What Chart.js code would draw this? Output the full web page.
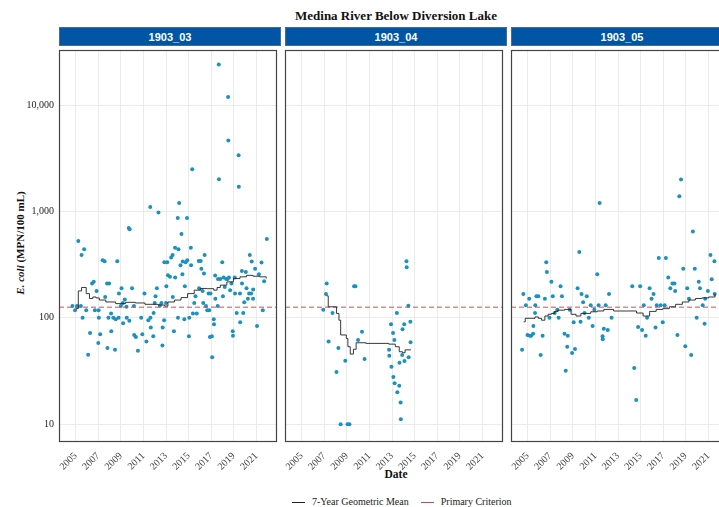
<!DOCTYPE html>
<html>
<head>
<meta charset="utf-8">
<script src="https://cdn.jsdelivr.net/npm/chart.js@4.4.0/dist/chart.umd.min.js"></script>
<style>
body{margin:0;width:719px;height:507px;overflow:hidden;background:#fff;position:relative;font-family:"Liberation Serif","Times New Roman",serif;}
canvas{position:absolute;top:46px;}
.strip{position:absolute;top:27px;height:19px;width:222px;background:#0055a4;color:#fff;font:bold 11px "Liberation Sans",Arial,sans-serif;text-align:center;line-height:19px;box-sizing:border-box;border:1px solid #4a6a90;}
#title{position:absolute;left:0;width:792px;top:8px;text-align:center;font-weight:bold;font-size:13px;color:#111;}
#ytitle{position:absolute;left:-80px;top:237px;width:200px;text-align:center;transform:rotate(-90deg);font-weight:bold;font-size:11px;color:#111;}
#xtitle{position:absolute;left:296px;width:200px;top:468px;text-align:center;font-weight:bold;font-size:11.5px;color:#111;}
#legend{position:absolute;top:496px;left:292px;font-size:10px;color:#222;white-space:nowrap;}
#legend span.k{display:inline-block;width:13px;height:0;border-top:1px solid #222;vertical-align:middle;margin-right:7px;}
#legend span.r{border-top-color:#c94a4a;margin-left:12px;}
</style>
</head>
<body>
<div id="title">Medina River Below Diversion Lake</div>
<div class="strip" style="left:59px">1903_03</div>
<div class="strip" style="left:285px">1903_04</div>
<div class="strip" style="left:511px">1903_05</div>
<div id="ytitle"><i>E. coli</i> (MPN/100 mL)</div>
<div id="xtitle">Date</div>
<div id="legend"><span class="k"></span>7-Year Geometric Mean<span class="k r"></span>Primary Criterion</div>
<canvas id="c1" width="281" height="441" style="left:0px"></canvas>
<canvas id="c2" width="281" height="441" style="left:226px"></canvas>
<canvas id="c3" width="281" height="441" style="left:452px"></canvas>
<script>
// axes
var yearTicks = [2005, 2007, 2009, 2011, 2013, 2015, 2017, 2019, 2021];
var valueTicks = [10, 100, 1000, 10000];
var xMin = 2003.52, xMax = 2022.83;
var yMin = 6.8, yMax = 33000;
var criterion = 126; // primary criterion, MPN/100 mL

// 1903_03
var dates03 = [2004.71,2004.94,2005.11,2005.23,2005.46,2005.52,2005.61,2005.75,2005.93,2006.10,2006.27,2006.45,2006.60,2006.70,2006.85,2007.03,2007.05,2007.00,2007.17,2007.39,2007.56,2007.61,2007.78,2007.81,2007.90,2007.96,2008.13,2008.15,2008.33,2008.48,2008.54,2008.68,2008.80,2008.83,2009.00,2009.06,2009.17,2009.20,2009.35,2009.50,2009.52,2009.70,2009.75,2009.78,2009.99,2010.16,2010.18,2010.33,2010.51,2010.80,2010.90,2011.09,2011.26,2011.43,2011.60,2011.62,2011.65,2011.87,2011.90,2012.00,2012.07,2012.19,2012.33,2012.45,2012.59,2012.68,2012.70,2012.83,2012.85,2013.00,2013.03,2013.11,2013.17,2013.35,2013.46,2013.58,2013.60,2013.70,2013.80,2013.81,2014.04,2014.06,2014.10,2014.16,2014.28,2014.37,2014.45,2014.48,2014.62,2014.67,2014.74,2014.86,2014.88,2015.03,2015.06,2015.20,2015.22,2015.32,2015.38,2015.50,2015.61,2015.72,2015.90,2015.93,2016.07,2016.13,2016.24,2016.30,2016.36,2016.42,2016.54,2016.65,2016.77,2016.83,2016.89,2016.94,2017.06,2017.09,2017.23,2017.25,2017.35,2017.37,2017.58,2017.60,2017.67,2017.69,2017.81,2017.98,2018.04,2018.10,2018.20,2018.33,2018.45,2018.50,2018.52,2018.57,2018.68,2018.80,2018.91,2018.93,2019.09,2019.11,2019.26,2019.43,2019.45,2019.55,2019.57,2019.72,2019.73,2019.84,2019.93,2020.07,2020.13,2020.25,2020.36,2020.42,2020.54,2020.59,2020.71,2020.72,2020.89,2021.06,2021.23,2021.46,2021.57,2021.69,2021.93];
var ecoli03 = [129,118,129,527,129,390,100,441,118,45,72,210,219,118,179,118,100,58,70,348,340,157,210,52,100,210,110,75,100,50,97,340,100,169,129,190,138,89,149,127,100,698,94,679,190,129,69,66,49,100,70,169,60,95,1100,100,81,67,111,138,160,190,980,130,138,55,81,95,333,138,198,333,251,243,369,390,157,75,457,239,867,100,441,1200,312,614,257,338,97,198,333,867,348,67,100,457,312,2500,110,138,160,110,343,190,343,290,179,138,261,390,129,118,169,118,66,169,67,42.5,97,87,250,151,129,232,24100,2010,232,333,160,239,195,232,232,11900,4640,239,182,210,75,68,239,169,111,3380,1710,169,91,276,210,111,140,270,190,151,169,390,169,338,151,185,290,84,257,331,118,221,551];
var gmDates03 = [2005.00,2005.23,2005.52,2005.93,2006.22,2006.51,2006.80,2007.09,2007.67,2008.54,2009.41,2010.28,2011.14,2012.30,2012.88,2013.17,2013.75,2014.33,2014.91,2015.50,2016.07,2016.65,2017.23,2017.52,2017.81,2018.39,2018.97,2019.55,2020.13,2020.71,2021.29,2021.87];
var gmValues03 = [122,179,193,169,152,157,154,147,141,136,140,138,134,132,129,141,147,155,169,182,189,188,182,193,203,218,234,243,251,246,243,234];

// 1903_04
var dates04 = [2006.91,2007.15,2007.21,2007.38,2007.73,2008.08,2008.25,2008.45,2008.86,2009.06,2009.23,2009.64,2009.76,2009.99,2010.34,2010.57,2012.74,2012.76,2012.91,2012.95,2013.09,2013.12,2013.21,2013.23,2013.43,2013.47,2013.64,2013.66,2013.76,2013.78,2013.90,2013.93,2014.08,2014.10,2014.28,2014.30,2014.45,2014.47,2014.62,2014.64];
var ecoli04 = [119,168,210,60,111,31,52,10,39.5,10,10,198,198,62,74,41,50,44,87,34.7,72,27.8,62,24.3,111,20,23,37.9,16,11.1,44.7,78,87,39.3,340,299,130,42.5,92,58.8];
var gmDates04 = [2007.21,2007.35,2008.08,2008.30,2008.45,2008.95,2009.09,2009.30,2009.58,2009.82,2010.69,2012.71,2013.29,2013.64,2013.93,2014.16,2014.68];
var gmValues04 = [161,127,110,95,69,64,53.5,45.6,50.6,58.3,57.5,56.6,53.5,48,47,50,50];

// 1903_05
var dates05 = [2004.50,2004.61,2004.84,2004.98,2005.13,2005.19,2005.30,2005.48,2005.50,2005.65,2005.67,2005.77,2005.94,2006.15,2006.32,2006.52,2006.64,2006.70,2006.93,2007.10,2007.22,2007.39,2007.62,2007.74,2007.91,2008.03,2008.26,2008.37,2008.50,2008.55,2008.72,2008.93,2009.07,2009.19,2009.42,2009.57,2009.68,2009.77,2009.91,2010.03,2010.23,2010.41,2010.58,2010.75,2010.90,2011.16,2011.28,2011.37,2011.63,2011.65,2011.74,2011.91,2012.09,2012.20,2012.43,2014.26,2014.43,2014.61,2014.78,2014.96,2015.13,2015.28,2015.45,2015.57,2015.80,2015.97,2016.15,2016.32,2016.43,2016.61,2016.78,2016.96,2017.13,2017.24,2017.45,2017.63,2017.83,2018.00,2018.06,2018.26,2018.43,2018.58,2018.78,2018.96,2019.13,2019.28,2019.48,2019.63,2019.80,2019.97,2020.15,2020.26,2020.50,2020.67,2020.72,2020.96,2021.19,2021.30,2021.54,2021.56];
var ecoli05 = [50,168,131,69,151,68,68,71,84,111,131,160,160,44.7,68,151,333,270,100,219,160,111,119,100,198,160,71,31.8,53.5,68,119,46.6,91,50.9,190,416,92,168,140,111,160,100,131,84,119,257,131,1200,67,63,79,131,77,168,100,198,33.7,16.9,82,198,77,131,68,100,190,151,168,81,131,366,131,91,131,366,239,190,210,210,179,69,1390,2000,290,54,190,151,44.7,650,290,100,219,190,131,88,151,179,390,230,340,168];
var gmDates05 = [2004.64,2004.78,2005.37,2005.65,2005.94,2006.23,2006.52,2006.81,2007.10,2007.39,2007.68,2008.26,2008.84,2009.28,2009.71,2010.58,2011.16,2011.74,2012.61,2014.06,2014.64,2015.22,2015.51,2015.80,2016.38,2016.96,2017.54,2018.10,2018.70,2019.28,2019.85,2020.43,2021.02,2021.59];
var gmValues05 = [91.7,99,99,102,99,95,104,108,110,115,118,120,108,104,110,114,116,120,116,116,111,104,104,115,120,122,127,134,141,147,152,154,157,169];

function pts(xs, ys){
    var out = [];
    for (var i = 0; i < xs.length; i++) out.push({x: xs[i], y: ys[i]});
    return out;
}

var panelBorder = {
    id: 'panelBorder',
    afterDraw: function(chart){
        var a = chart.chartArea, ctx = chart.ctx;
        ctx.save();
        ctx.strokeStyle = '#444';
        ctx.lineWidth = 1.2;
        ctx.strokeRect(a.left + 0.5, a.top + 0.5, a.right - a.left - 1, a.bottom - a.top - 1);
        ctx.restore();
    }
};

function makePanel(id, dates, vals, gmD, gmV, showY){
    new Chart(document.getElementById(id), {
        type: 'scatter',
        data: {
            datasets: [{
                type: 'line',
                data: pts(gmD, gmV),
                showLine: true,
                stepped: true,
                borderColor: '#222',
                borderWidth: 0.9,
                pointRadius: 0,
                fill: false
            }, {
                type: 'line',
                data: pts([xMin, xMax], [criterion, criterion]),
                showLine: true,
                borderColor: '#cc4f4f',
                borderWidth: 1,
                borderDash: [5, 3],
                pointRadius: 0,
                fill: false
            }, {
                data: pts(dates, vals),
                backgroundColor: '#1b91bf',
                borderWidth: 0,
                pointRadius: 2
            }]
        },
        options: {
            responsive: false,
            animation: false,
            layout: {padding: 0},
            plugins: {legend: {display: false}, tooltip: {enabled: false}},
            scales: {
                x: {
                    type: 'linear',
                    min: xMin, max: xMax,
                    afterBuildTicks: function(s){ s.ticks = yearTicks.map(function(v){ return {value: v}; }); },
                    afterFit: function(s){ s.height = 45; s.paddingLeft = 0; s.paddingRight = 0; },
                    grid: {color: '#ebebeb', lineWidth: 1, drawTicks: false},
                    border: {display: false},
                    ticks: {
                        autoSkip: false, minRotation: 45, maxRotation: 45, padding: 8,
                        color: '#444', font: {family: 'Liberation Serif', size: 10},
                        callback: function(v){ return String(v); }
                    }
                },
                y: {
                    type: 'logarithmic',
                    min: yMin, max: yMax,
                    afterBuildTicks: function(s){ s.ticks = valueTicks.map(function(v){ return {value: v}; }); },
                    afterFit: function(s){ s.width = 59; s.paddingTop = 0; s.paddingBottom = 0; },
                    grid: {color: '#ebebeb', lineWidth: 1, drawTicks: false},
                    border: {display: false},
                    ticks: {
                        padding: 5,
                        color: '#222', font: {family: 'Liberation Serif', size: 10},
                        callback: function(v){ return showY ? v.toLocaleString('en-US') : ''; }
                    }
                }
            }
        },
        plugins: [panelBorder]
    });
}

makePanel('c1', dates03, ecoli03, gmDates03, gmValues03, true);
makePanel('c2', dates04, ecoli04, gmDates04, gmValues04, false);
makePanel('c3', dates05, ecoli05, gmDates05, gmValues05, false);
</script>
</body>
</html>
